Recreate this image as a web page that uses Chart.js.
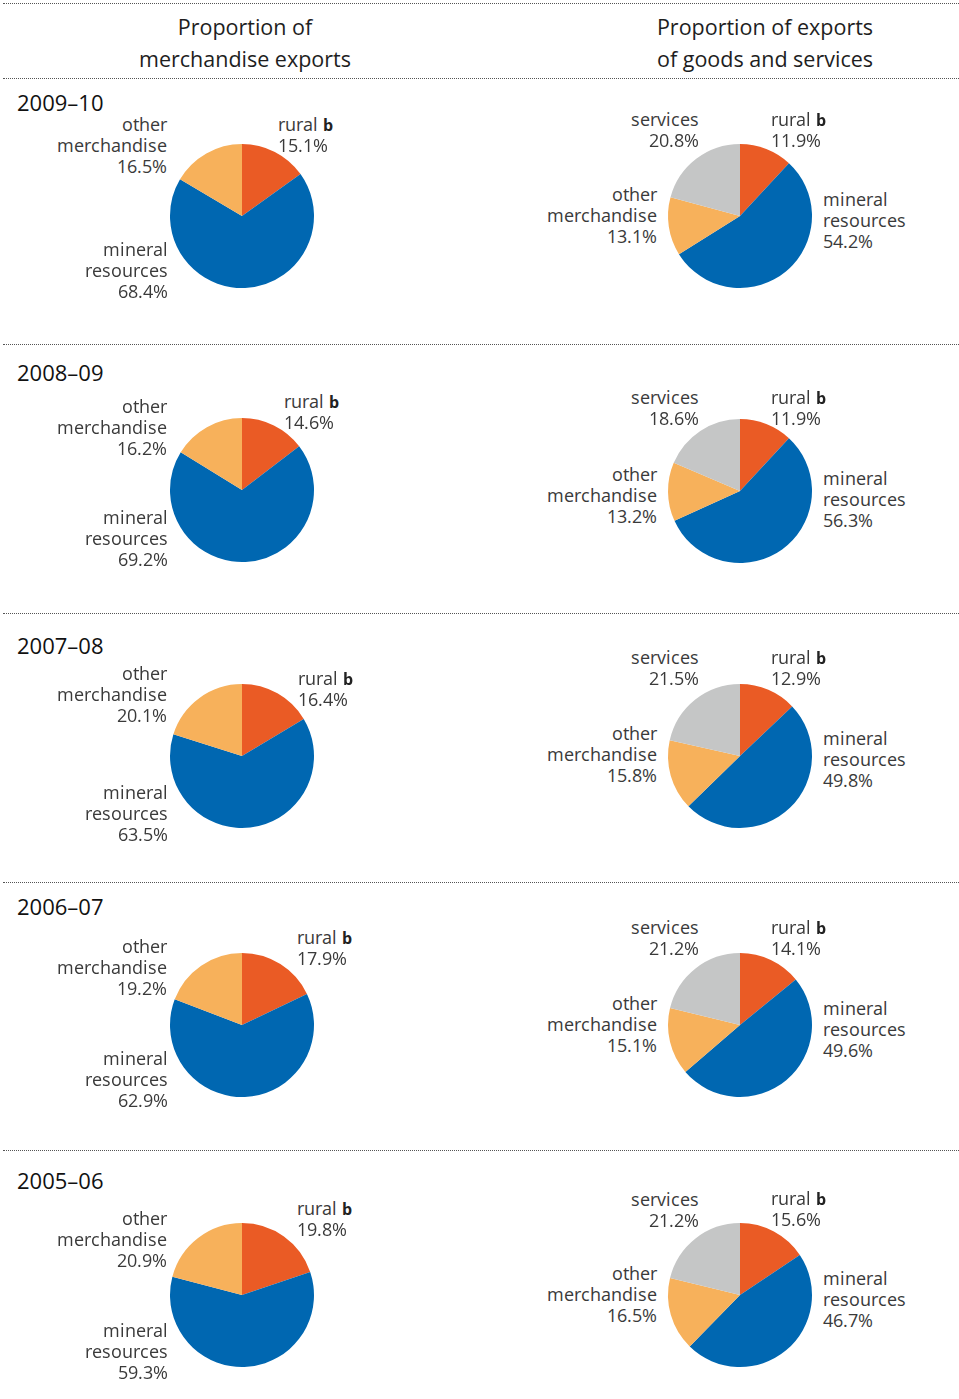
<!DOCTYPE html>
<html>
<head>
<meta charset="utf-8">
<script src="https://cdn.jsdelivr.net/npm/chart.js@4.4.1/dist/chart.umd.min.js"></script>
<style>
  /* same Open Sans glyphs, tighter line box so stacked label lines don't collide */
  @font-face {
    font-family: "OS Tight";
    src: local("Open Sans Regular"), local("OpenSans-Regular"), local("Open Sans");
    font-weight: 400;
    ascent-override: 86%;
    descent-override: 24%;
    line-gap-override: 0%;
  }
  @font-face {
    font-family: "OS Tight";
    src: local("Open Sans Bold"), local("OpenSans-Bold");
    font-weight: 700;
    ascent-override: 86%;
    descent-override: 24%;
    line-gap-override: 0%;
  }
  body { margin: 0; background: #fff; }
  #page { position: relative; width: 959px; height: 1399px; overflow: hidden; font-family: "Open Sans", sans-serif; }
  .rule { position: absolute; left: 3px; right: 0; height: 0; border-top: 1px dotted #555; }
  .head { position: absolute; width: 400px; text-align: center; font-size: 21.5px; line-height: 32px; color: #1e1e1e; }
  .year { position: absolute; left: 17px; font-size: 22px; line-height: 26px; color: #111; }
  .ln { position: absolute; height: 21px; font-family: "OS Tight", "Open Sans", sans-serif; font-size: 17.6px; line-height: 21px; color: #3a3a3a; white-space: nowrap; }
  .ln b { font-weight: 700; font-size: 15.5px; color: #222; }
  canvas { position: absolute; }
</style>
</head>
<body>
<div id="page">
  <div class="rule" style="top:3px"></div>
  <div class="head" style="left:45px; top:11px">Proportion of<br>merchandise exports</div>
  <div class="head" style="left:565px; top:11px">Proportion of exports<br>of goods and services</div>
  <div class="rule" style="top:78px"></div>
  <div class="rule" style="top:344px"></div>
  <div class="rule" style="top:613px"></div>
  <div class="rule" style="top:882px"></div>
  <div class="rule" style="top:1150px"></div>
</div>
<script>
// data, per year (rows top to bottom)
const years = ["2009–10", "2008–09", "2007–08", "2006–07", "2005–06"];

// merchandise exports (left pies)
const merchCategories = ["rural", "mineral resources", "other merchandise"];
const merchRural = [15.1, 14.6, 16.4, 17.9, 19.8];
const merchMineral = [68.4, 69.2, 63.5, 62.9, 59.3];
const merchOther = [16.5, 16.2, 20.1, 19.2, 20.9];

// goods and services exports (right pies)
const gsCategories = ["rural", "mineral resources", "other merchandise", "services"];
const gsRural = [11.9, 11.9, 12.9, 14.1, 15.6];
const gsMineral = [54.2, 56.3, 49.8, 49.6, 46.7];
const gsOther = [13.1, 13.2, 15.8, 15.1, 16.5];
const gsServices = [20.8, 18.6, 21.5, 21.2, 21.2];

const colors = {
  rural: "#EA5B25",
  mineral: "#0067B1",
  other: "#F7B15B",
  services: "#C5C6C6",
};

// layout (pixels)
const leftCx = 242;
const rightCx = 739.5;
const leftCy = [216, 490, 756, 1025, 1295];
const rightCy = [216, 491, 756, 1025, 1295];
const yearY = [103, 373, 646, 907, 1181];
const R = 72;
const pad = 3;
const lineGap = 21;

// first-line centre of each label block
const lay = {
  lOther: [124, 406.7, 673.3, 946.7, 1218.3],
  lRuralX: [278, 284, 297.5, 296.5, 296.5],
  lRural: [124, 401.7, 678.3, 937.3, 1208.3],
  lMineral: [249, 517, 792.7, 1058.3, 1330],
  rServices: [119, 397.3, 657.3, 927.3, 1199],
  rRural: [119, 397, 657, 927, 1198.5],
  rOther: [194.3, 474, 733.3, 1003.3, 1273],
  rMineral: [199, 478.3, 738.3, 1008.3, 1278],
};

const page = document.getElementById("page");
const pct = (v) => v.toFixed(1) + "%";

// one div per text line so the lines stack at the reference spacing
function addLabel(lines, x, yCenter, alignRight) {
  lines.forEach((txt, k) => {
    const d = document.createElement("div");
    d.className = "ln";
    d.innerHTML = txt;
    d.style.top = yCenter - 9.5 + k * lineGap + "px";
    if (alignRight) {
      d.style.right = 959 - x + "px";
      d.style.textAlign = "right";
    } else {
      d.style.left = x + "px";
    }
    page.appendChild(d);
  });
}

function makePie(cx, cy, labels, values, bg) {
  const size = 2 * (R + pad);
  const c = document.createElement("canvas");
  c.width = size;
  c.height = size;
  c.style.left = cx - R - pad + "px";
  c.style.top = cy - R - pad + "px";
  page.appendChild(c);
  new Chart(c, {
    type: "pie",
    data: {
      labels: labels,
      datasets: [{ data: values, backgroundColor: bg, borderWidth: 0 }],
    },
    options: {
      responsive: false,
      animation: false,
      layout: { padding: pad },
      plugins: { legend: { display: false }, tooltip: { enabled: false } },
    },
  });
}

years.forEach((yr, i) => {
  const y = document.createElement("div");
  y.className = "year";
  y.textContent = yr;
  y.style.top = yearY[i] - 13.7 + "px";
  page.appendChild(y);

  // left pie: merchandise
  makePie(leftCx, leftCy[i], merchCategories,
    [merchRural[i], merchMineral[i], merchOther[i]],
    [colors.rural, colors.mineral, colors.other]);
  addLabel(["other", "merchandise", pct(merchOther[i])], 167, lay.lOther[i], true);
  addLabel(["rural <b>b</b>", pct(merchRural[i])], lay.lRuralX[i], lay.lRural[i], false);
  addLabel(["mineral", "resources", pct(merchMineral[i])], 167.5, lay.lMineral[i], true);

  // right pie: goods and services
  makePie(rightCx, rightCy[i], gsCategories,
    [gsRural[i], gsMineral[i], gsOther[i], gsServices[i]],
    [colors.rural, colors.mineral, colors.other, colors.services]);
  addLabel(["services", pct(gsServices[i])], 698.5, lay.rServices[i], true);
  addLabel(["rural <b>b</b>", pct(gsRural[i])], 770.5, lay.rRural[i], false);
  addLabel(["other", "merchandise", pct(gsOther[i])], 656.7, lay.rOther[i], true);
  addLabel(["mineral", "resources", pct(gsMineral[i])], 822.8, lay.rMineral[i], false);
});
</script>
</body>
</html>
